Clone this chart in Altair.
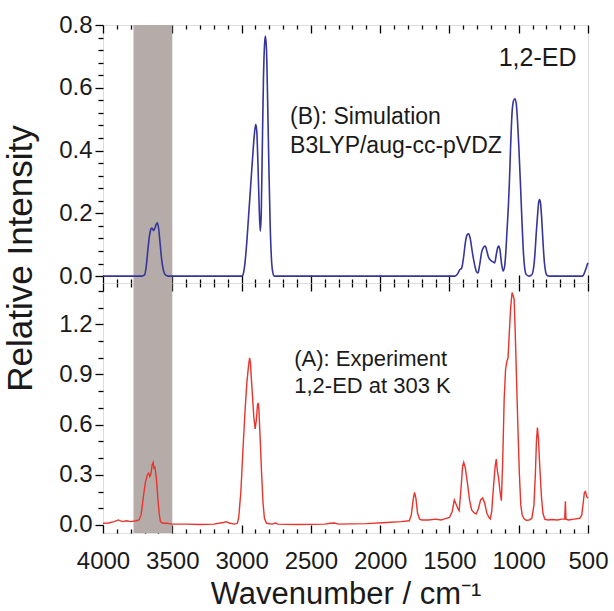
import altair as alt
import pandas as pd

# ---------------- data ----------------
sim_wn = [4000, 3720, 3700, 3688, 3676, 3664, 3654, 3646, 3636, 3626, 3616, 3607, 3598, 3588, 3576, 3562, 3548, 3530,
          3000, 2990, 2976, 2962, 2948, 2934, 2920, 2908, 2898, 2890, 2882, 2873, 2865, 2858, 2850, 2842, 2834, 2828,
          2820, 2812, 2803, 2794, 2785, 2776, 2765,
          1460, 1440, 1426, 1412, 1398, 1384, 1372, 1362, 1350, 1336, 1320, 1305, 1294, 1282, 1268, 1252, 1241, 1230,
          1218, 1208, 1196, 1184, 1173, 1162, 1152, 1145, 1136, 1124, 1113, 1102, 1094, 1085, 1075, 1068, 1058, 1048,
          1038, 1028, 1018, 1008, 998, 988, 978, 968, 958, 946, 925, 905, 893, 883, 873, 863, 856, 849, 842, 835, 825,
          815, 805, 795, 780, 540, 532, 524, 516, 508, 500]
sim_val = [0, 0, 0.004, 0.03, 0.085, 0.13, 0.15, 0.153, 0.145, 0.152, 0.165, 0.17, 0.15, 0.105, 0.05, 0.015, 0.003, 0,
           0, 0.004, 0.04, 0.11, 0.2, 0.29, 0.38, 0.45, 0.484, 0.46, 0.36, 0.22, 0.143, 0.2, 0.42, 0.63, 0.74, 0.765,
           0.72, 0.56, 0.35, 0.17, 0.06, 0.015, 0,
           0, 0.008, 0.02, 0.025, 0.06, 0.11, 0.132, 0.135, 0.12, 0.08, 0.04, 0.014, 0.01, 0.035, 0.075, 0.093, 0.096,
           0.08, 0.06, 0.053, 0.048, 0.045, 0.042, 0.068, 0.09, 0.096, 0.085, 0.04, 0.016, 0.03, 0.07, 0.14, 0.22,
           0.29, 0.42, 0.52, 0.558, 0.565, 0.55, 0.49, 0.4, 0.3, 0.19, 0.09, 0.03, 0.005, 0, 0.005, 0.025, 0.07,
           0.14, 0.2, 0.235, 0.244, 0.23, 0.19, 0.11, 0.045, 0.012, 0.002, 0, 0, 0.004, 0.012, 0.022, 0.033, 0.042]

exp_wn = [4000, 3960, 3920, 3890, 3860, 3830, 3800, 3760, 3740, 3725, 3710, 3695, 3680, 3670, 3662, 3655, 3645, 3638,
          3632, 3625, 3615, 3605, 3595, 3585, 3570, 3540, 3500, 3400, 3300, 3200, 3130, 3110, 3090, 3050, 3030, 3020,
          3005, 2990, 2975, 2962, 2950, 2942, 2936, 2930, 2922, 2912, 2902, 2893, 2885, 2880, 2875, 2865, 2855, 2845,
          2835, 2820, 2780, 2755, 2740, 2600, 2400, 2360, 2330, 2300, 2100, 1950, 1850, 1790, 1775, 1762, 1752, 1742,
          1730, 1715, 1700, 1650, 1600, 1560, 1540, 1500, 1480, 1465, 1455, 1440, 1430, 1418, 1405, 1397, 1385, 1370,
          1355, 1340, 1320, 1306, 1290, 1275, 1260, 1245, 1230, 1215, 1205, 1195, 1180, 1170, 1162, 1155, 1145, 1135,
          1125, 1115, 1105, 1095, 1085, 1077, 1068, 1058, 1048, 1040, 1033, 1025, 1015, 1005, 995, 985, 975, 960, 945,
          925, 905, 890, 880, 872, 865, 858, 848, 836, 825, 812, 790, 760, 720, 690, 668, 663, 659, 640, 600, 560, 545,
          535, 526, 518, 510, 500]
exp_val = [0.01, 0.012, 0.02, 0.03, 0.02, 0.025, 0.02, 0.025, 0.03, 0.06, 0.16, 0.25, 0.3, 0.31, 0.29, 0.3, 0.36, 0.374,
           0.34, 0.345, 0.28, 0.17, 0.07, 0.02, 0.01, 0.01, 0.005, 0.005, 0.003, 0.005, 0.015, 0.02, 0.012, 0.005,
           0.01, 0.05, 0.2, 0.45, 0.68, 0.85, 0.95, 1.0, 0.97, 0.88, 0.78, 0.65, 0.575, 0.63, 0.72, 0.73, 0.69, 0.5,
           0.3, 0.13, 0.04, 0.01, 0.005, 0.012, 0.005, 0.003, 0.005, 0.01, 0.012, 0.005, 0.008, 0.015, 0.02, 0.025,
           0.06, 0.15, 0.195, 0.16, 0.07, 0.035, 0.03, 0.03, 0.035, 0.03, 0.035, 0.045, 0.08, 0.15, 0.13, 0.1, 0.085,
           0.2, 0.35, 0.374, 0.34, 0.25, 0.15, 0.09, 0.07, 0.066, 0.1, 0.15, 0.161, 0.13, 0.07, 0.045, 0.036, 0.08,
           0.25, 0.35, 0.394, 0.33, 0.28, 0.2, 0.145, 0.4, 0.75, 0.93, 0.98, 1.0, 1.15, 1.3, 1.39, 1.37, 1.35, 1.15,
           0.85, 0.56, 0.3, 0.12, 0.06, 0.035, 0.028, 0.03, 0.04, 0.12, 0.3, 0.5, 0.583, 0.52, 0.35, 0.17, 0.07, 0.035,
           0.03, 0.033, 0.03, 0.035, 0.035, 0.141, 0.035, 0.03, 0.035, 0.04, 0.06, 0.13, 0.195, 0.2, 0.17, 0.16]

band_start = [3780]
band_end = [3500]

x_major = [4000, 3500, 3000, 2500, 2000, 1500, 1000, 500]
x_minor = [v for v in range(3900, 500, -100) if v % 500 != 0]
y_top_major = [0.0, 0.2, 0.4, 0.6, 0.8]
y_top_minor = [0.04, 0.08, 0.12, 0.16, 0.24, 0.28, 0.32, 0.36, 0.44, 0.48, 0.52, 0.56, 0.64, 0.68, 0.72, 0.76]
y_bot_major = [0.0, 0.3, 0.6, 0.9, 1.2]
y_bot_minor = [0.1, 0.2, 0.4, 0.5, 0.7, 0.8, 1.0, 1.1, 1.3, 1.4]

top_labels = ["(B): Simulation", "B3LYP/aug-cc-pVDZ"]
top_label_x = [2650, 2650]
top_label_y = [0.484, 0.393]
tag_label = ["1,2-ED"]
tag_x = [583]
tag_y = [0.669]
bot_labels = ["(A): Experiment", "1,2-ED at 303 K"]
bot_label_x = [2620, 2620]
bot_label_y = [0.951, 0.792]

# ---------------- frames ----------------
sim_df = pd.DataFrame({"wn": sim_wn, "val": sim_val})
exp_df = pd.DataFrame({"wn": exp_wn, "val": exp_val})
band_df = pd.DataFrame({"x0": band_start, "x1": band_end})
top_text_df = pd.DataFrame({"wn": top_label_x, "val": top_label_y, "t": top_labels})
tag_df = pd.DataFrame({"wn": tag_x, "val": tag_y, "t": tag_label})
bot_text_df = pd.DataFrame({"wn": bot_label_x, "val": bot_label_y, "t": bot_labels})

FONT = "Liberation Sans"
BLUE = "#35359a"
RED = "#e8342c"
GREY = "#b5aca9"
INK = "#1a1a1a"

xs = alt.Scale(domain=[4000, 500], nice=False, zero=False)
ys_top = alt.Scale(domain=[-0.022, 0.8], nice=False, zero=False)
ys_bot = alt.Scale(domain=[-0.048, 1.447], nice=False, zero=False)

W = 485
H_TOP = 258
H_BOT = 250
LABEL_SIZE = 24


def tick_axis(orient, values, size):
    return alt.Axis(orient=orient, values=values, labels=False, ticks=True, tickSize=size, offset=-size,
                    domain=False, grid=False, title=None, tickColor="black", tickWidth=1.3)


def carrier(df, ys, xaxis, yaxis):
    return alt.Chart(df).mark_line(opacity=0).encode(
        x=alt.X("wn:Q", scale=xs, axis=xaxis),
        y=alt.Y("val:Q", scale=ys, axis=yaxis),
    )


def y_minor_axis(values):
    return alt.Axis(orient="left", values=values, labels=False, ticks=True, tickSize=5, domain=False,
                    grid=False, title=None, tickColor="black", tickWidth=1.3)


# ---------------- top panel ----------------
band_top = alt.Chart(band_df).mark_rect(color=GREY).encode(
    x=alt.X("x0:Q", scale=xs, axis=None), x2="x1:Q")

line_top = alt.Chart(sim_df).mark_line(color=BLUE, strokeWidth=1.6, interpolate="monotone").encode(
    x=alt.X("wn:Q", scale=xs, axis=tick_axis("bottom", x_major, 8)),
    y=alt.Y("val:Q", scale=ys_top, axis=alt.Axis(
        orient="left", values=y_top_major, format=".1f", labelFontSize=LABEL_SIZE, labelPadding=3,
        labelFlush=False, labelOverlap=False,
        tickSize=8, tickWidth=1.3, tickColor="black", domain=False, grid=False,
        title="Relative Intensity", titleFontSize=35, titleFontWeight="normal", titleAngle=270,
        titleBaseline="alphabetic", titleAlign="center", titleX=-72, titleY=233, titleColor=INK,
        labelColor=INK)),
)

text_top = alt.Chart(top_text_df).mark_text(align="left", baseline="alphabetic", fontSize=23, font=FONT,
                                            color=INK).encode(
    x=alt.X("wn:Q", scale=xs, axis=None), y=alt.Y("val:Q", scale=ys_top, axis=None), text="t:N")
tag_top = alt.Chart(tag_df).mark_text(align="right", baseline="alphabetic", fontSize=25, font=FONT,
                                      color=INK).encode(
    x=alt.X("wn:Q", scale=xs, axis=None), y=alt.Y("val:Q", scale=ys_top, axis=None), text="t:N")

top = alt.layer(
    band_top,
    line_top,
    carrier(sim_df, ys_top, tick_axis("bottom", x_minor, 4), y_minor_axis(y_top_minor)),
    carrier(sim_df, ys_top, tick_axis("top", x_major, 8), None),
    carrier(sim_df, ys_top, tick_axis("top", x_minor, 4), None),
    text_top,
    tag_top,
).resolve_axis(x="independent", y="independent").properties(width=W, height=H_TOP)

# ---------------- bottom panel ----------------
band_bot = alt.Chart(band_df).mark_rect(color=GREY).encode(
    x=alt.X("x0:Q", scale=xs, axis=None), x2="x1:Q")

line_bot = alt.Chart(exp_df).mark_line(color=RED, strokeWidth=1.4).encode(
    x=alt.X("wn:Q", scale=xs, axis=alt.Axis(
        orient="bottom", values=x_major, format="d", labelFontSize=LABEL_SIZE, labelPadding=16, ticks=False,
        labelFlush=False, labelOverlap=False,
        domain=False, grid=False, labelColor=INK,
        title="Wavenumber / cm\u207b\u00b9", titleFontSize=31, titleFontWeight="normal",
        titleBaseline="alphabetic", titleAlign="center", titleX=W / 2, titleY=70, titleColor=INK)),
    y=alt.Y("val:Q", scale=ys_bot, axis=alt.Axis(
        orient="left", values=y_bot_major, format=".1f", labelFontSize=LABEL_SIZE, labelPadding=3,
        labelFlush=False, labelOverlap=False,
        tickSize=8, tickWidth=1.3, tickColor="black", domain=False, grid=False, title=None,
        labelColor=INK)),
)

text_bot = alt.Chart(bot_text_df).mark_text(align="left", baseline="alphabetic", fontSize=22, font=FONT,
                                            color=INK).encode(
    x=alt.X("wn:Q", scale=xs, axis=None), y=alt.Y("val:Q", scale=ys_bot, axis=None), text="t:N")

bottom = alt.layer(
    band_bot,
    line_bot,
    carrier(exp_df, ys_bot, tick_axis("bottom", x_major, 8), y_minor_axis(y_bot_minor)),
    carrier(exp_df, ys_bot, tick_axis("bottom", x_minor, 4), None),
    carrier(exp_df, ys_bot, tick_axis("top", x_major, 8), None),
    carrier(exp_df, ys_bot, tick_axis("top", x_minor, 4), None),
    text_bot,
).resolve_axis(x="independent", y="independent").properties(width=W, height=H_BOT)

chart = alt.vconcat(top, bottom, spacing=0, bounds="flush").properties(
    padding={"left": 2, "top": 12, "right": 2, "bottom": 2},
).configure_view(stroke="black", strokeWidth=1.6).configure_axis(
    labelFont=FONT, titleFont=FONT
).configure(background="white")

chart.save("out.html", embed_options={"renderer": "svg", "actions": False})
